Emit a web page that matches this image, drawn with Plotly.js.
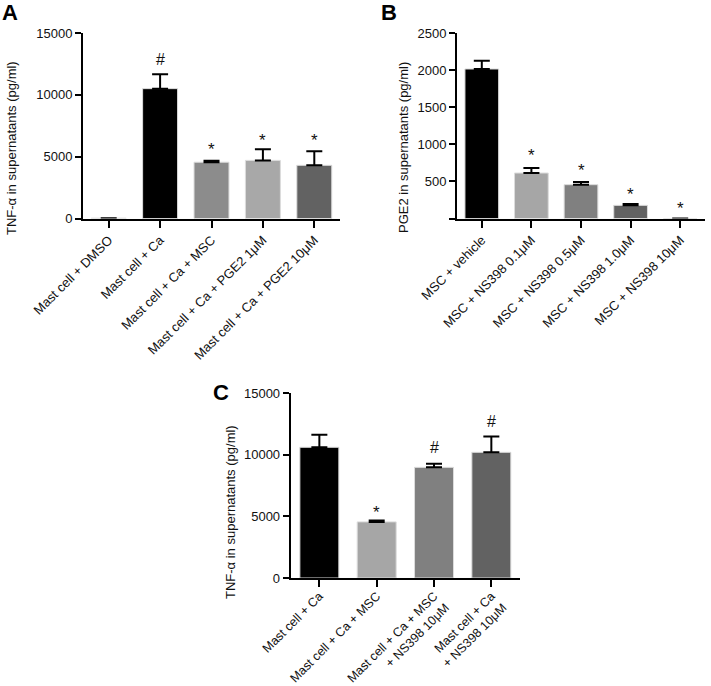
<!DOCTYPE html>
<html><head><meta charset="utf-8">
<script src="https://cdn.plot.ly/plotly-3.0.1.min.js"></script>
<style>html,body{margin:0;padding:0;background:#fff}</style>
</head><body><div id="chart" style="width:711px;height:686px"></div>
<script>
// Panel A
const catsA = ['Mast cell + DMSO', 'Mast cell + Ca', 'Mast cell + Ca + MSC', 'Mast cell + Ca + PGE2 1μM', 'Mast cell + Ca + PGE2 10μM'];
const valsA = [30, 10500, 4550, 4700, 4300];
const errA = [0, 1170, 110, 900, 1130];
const marksA = ['', '#', '*', '*', '*'];
const colorsA = ['#c4c4c4', '#000000', '#8c8c8c', '#a8a8a8', '#626262'];
const ticksA = [0, 5000, 10000, 15000];
const tickTextA = ['0', '5000', '10000', '15000'];
// Panel B
const catsB = ['MSC + vehicle', 'MSC + NS398 0.1μM', 'MSC + NS398 0.5μM', 'MSC + NS398 1.0μM', 'MSC + NS398 10μM'];
const valsB = [2015, 613, 456, 177, 0];
const errB = [111, 67, 36, 19, 0];
const marksB = ['', '*', '*', '*', '*'];
const colorsB = ['#000000', '#a6a6a6', '#808080', '#626262', '#626262'];
const ticksB = [0, 500, 1000, 1500, 2000, 2500];
const tickTextB = ['', '500', '1000', '1500', '2000', '2500'];
// Panel C
const catsC = ['Mast cell + Ca', 'Mast cell + Ca + MSC', 'Mast cell + Ca + MSC<br>+ NS398 10μM', 'Mast cell + Ca<br>+ NS398 10μM'];
const valsC = [10600, 4550, 8970, 10190];
const errC = [1020, 110, 300, 1290];
const marksC = ['', '*', '#', '#'];
const colorsC = ['#000000', '#a6a6a6', '#808080', '#626262'];
const ticksC = [0, 5000, 10000, 15000];
const tickTextC = ['0', '5000', '10000', '15000'];

const FONT = 'Liberation Sans, Arial, sans-serif';

function barTrace(cats, vals, errs, colors, xa, ya) {
  return {
    type: 'bar', x: cats, y: vals, xaxis: xa, yaxis: ya,
    width: 0.68,
    marker: {color: colors, line: {color: '#dcdcdc', width: 1}},
    error_y: {type: 'data', symmetric: false, array: errs, arrayminus: errs.map(() => 0),
              color: '#000', thickness: 2, width: 8, visible: true},
    hoverinfo: 'skip', showlegend: false
  };
}

const traces = [
  barTrace(catsA, valsA, errA, colorsA, 'x', 'y'),
  barTrace(catsB, valsB, errB, colorsB, 'x2', 'y2'),
  barTrace(catsC, valsC, errC, colorsC, 'x3', 'y3')
];

function marks(cats, vals, errs, m, xa, ya, shifts) {
  const out = [];
  cats.forEach((c, i) => {
    if (!m[i]) return;
    const isStar = m[i] === '*';
    out.push({xref: xa, yref: ya, x: c, y: vals[i] + errs[i], text: m[i], showarrow: false,
      yanchor: 'bottom', yshift: shifts[i] + (isStar ? -3 : 0),
      font: {family: FONT, size: isStar ? 17 : 16, color: '#111'}});
  });
  return out;
}

function xax(domain, anchor, n, standoff, fs) {
  return {domain: domain, anchor: anchor, type: 'category', range: [-0.5, n - 0.5],
    showline: true, linecolor: '#000', linewidth: 2, ticks: 'outside', ticklen: 7, tickwidth: 2,
    tickcolor: '#000', tickangle: -45, tickfont: {family: FONT, size: fs, color: '#111'},
    ticklabelstandoff: standoff,
    showgrid: false, zeroline: false, fixedrange: true};
}
function yax(domain, anchor, range, tv, tt) {
  return {domain: domain, anchor: anchor, range: range, tickmode: 'array', tickvals: tv, ticktext: tt,
    showline: true, linecolor: '#000', linewidth: 2, ticks: 'outside', ticklen: 6, tickwidth: 2,
    tickcolor: '#000', tickfont: {family: FONT, size: 13, color: '#111'},
    showgrid: false, zeroline: false, fixedrange: true};
}

const yTitle = (text, x, y) => ({xref: 'paper', yref: 'paper', x: x, y: y, text: text, textangle: -90,
  showarrow: false, xanchor: 'center', yanchor: 'middle', font: {family: FONT, size: 13, color: '#111'}});
const letter = (text, x, y) => ({xref: 'paper', yref: 'paper', x: x, y: y, text: '<b>' + text + '</b>',
  showarrow: false, xanchor: 'center', yanchor: 'middle', font: {family: FONT, size: 22, color: '#000'}});

const annotations = []
  .concat(marks(catsA, valsA, errA, marksA, 'x', 'y', [0, 4, 3, 0, 2]))
  .concat(marks(catsB, valsB, errB, marksB, 'x2', 'y2', [0, 4, 3, 1, 1]))
  .concat(marks(catsC, valsC, errC, marksC, 'x3', 'y3', [0, 0, 6, 4]))
  .concat([
    yTitle('TNF-α in supernatants (pg/ml)', 12 / 711, (686 - 148) / 686),
    yTitle('PGE2 in supernatants (pg/ml)', 404 / 711, (686 - 148) / 686),
    yTitle('TNF-α in supernatants (pg/ml)', 230 / 711, (686 - 512) / 686),
    letter('A', 10 / 711, (686 - 13) / 686),
    letter('B', 389 / 711, (686 - 13) / 686),
    letter('C', 221 / 711, (686 - 392) / 686)
  ]);

const layout = {
  width: 711, height: 686, margin: {l: 0, r: 0, t: 0, b: 0},
  paper_bgcolor: '#fff', plot_bgcolor: '#fff',
  font: {family: FONT, color: '#111'},
  bargap: 0.32,
  xaxis: xax([83 / 711, 340 / 711], 'y', 5, 0, 13),
  yaxis: yax([(686 - 218.5) / 686, (686 - 33) / 686], 'x', [0, 15000], ticksA, tickTextA),
  xaxis2: xax([457 / 711, 705 / 711], 'y2', 5, 0, 13),
  yaxis2: yax([(686 - 218.5) / 686, (686 - 33) / 686], 'x2', [0, 2500], ticksB, tickTextB),
  xaxis3: xax([290.7 / 711, 520 / 711], 'y3', 4, -3, 12.5),
  yaxis3: yax([(686 - 578) / 686, (686 - 393) / 686], 'x3', [0, 15000], ticksC, tickTextC),
  annotations: annotations
};

Plotly.newPlot('chart', traces, layout, {staticPlot: true, displayModeBar: false});
</script></body></html>
